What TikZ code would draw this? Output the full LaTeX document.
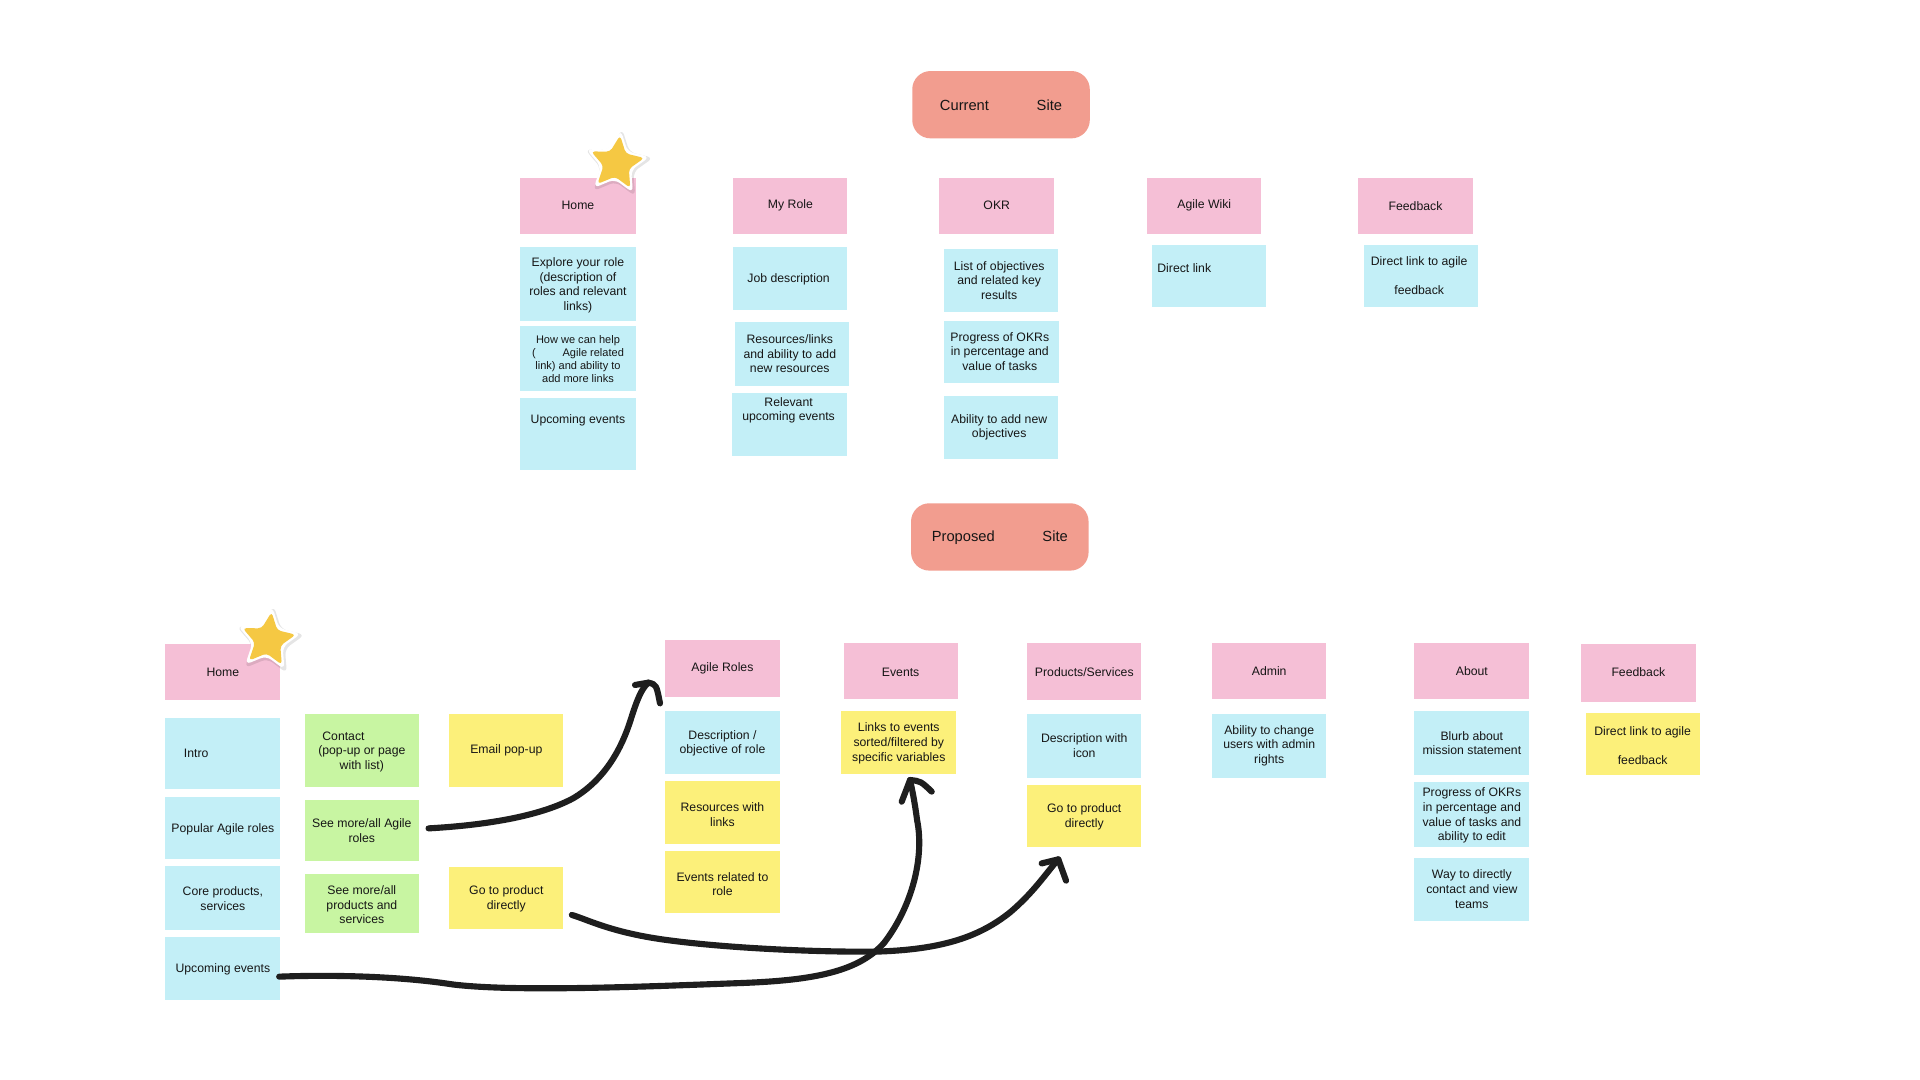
\documentclass[tikz,border=0pt]{standalone}
\usepackage{fontspec}
\setmainfont{Liberation Sans}
\usetikzlibrary{shapes.geometric}
\definecolor{pinkc}{HTML}{F5BFD6}
\definecolor{bluec}{HTML}{C3EFF7}
\definecolor{greenc}{HTML}{C8F5A2}
\definecolor{yellowc}{HTML}{FCF07A}
\definecolor{salmonc}{HTML}{F29D8F}
\definecolor{ink}{HTML}{161616}
\definecolor{pen}{HTML}{1E1E1E}
\definecolor{starc}{HTML}{F5C843}
\tikzset{
  note/.style={rectangle, inner sep=0pt, draw=none},
  txt/.style={align=center, inner sep=0pt, text=ink, font=\fontsize{10}{12}\selectfont},
  smalltxt/.style={txt, font=\fontsize{9}{10.7}\selectfont},
  titletxt/.style={txt, font=\fontsize{12}{14}\selectfont},
  titlebox/.style={rectangle, rounded corners=15pt, fill=salmonc, inner sep=0pt},
  starshadow/.style={star, star points=5, star point ratio=2.1, minimum size=59pt, inner sep=0pt, rotate=-7, fill=black, opacity=0.10, rounded corners=5pt},
  starwhite/.style={star, star points=5, star point ratio=2.1, minimum size=55pt, inner sep=0pt, rotate=-7, fill=white, rounded corners=5pt},
  staryellow/.style={star, star points=5, star point ratio=2.1, minimum size=46pt, inner sep=0pt, rotate=-7, fill=starc, rounded corners=3pt},
  hand/.style={draw=pen, line width=5pt, line cap=round, line join=round},
}
\newcommand\stk[6]{\node[note, fill=#2, minimum width={#5-#3}, minimum height={#6-#4}] (#1) at ({(#3+#5)/2},{(#4+#6)/2}) {};}
\begin{document}
\begin{tikzpicture}[x=1pt,y=-1pt]
\useasboundingbox (0,0) rectangle (1568,882);
\fill[white] (0,0) rectangle (1568,882);

% ---------- Current site ----------
\node[titlebox, minimum width=145pt, minimum height=55pt] (cur) at (817.5,85.5) {};
\node[titletxt] (curt) at (817.5,86) {Current\hspace{39pt}Site};

\stk{home1}{pinkc}{425}{145}{519}{191}
\node[txt] (home1t) at (472,168) {Home};
\stk{myrole}{pinkc}{599}{145}{692}{191}
\node[txt] (myrolet) at (645.5,168) {My Role};
\stk{okr}{pinkc}{767}{145}{861}{191}
\node[txt] (okrt) at (814,168) {OKR};
\stk{wiki}{pinkc}{937}{145}{1030}{191}
\node[txt] (wikit) at (983.5,168) {Agile Wiki};
\stk{fbone}{pinkc}{1109}{145}{1203}{191}
\node[txt] (fbonet) at (1156,168) {Feedback};

\node[starshadow] (star1s) at (504.5,134.5) {};
\node[starwhite] (star1w) at (503.6,133.4) {};
\node[staryellow] (star1) at (503.6,133.4) {};

\stk{hA}{bluec}{425}{202}{519}{262}
\node[txt] (hAt) at (472,233) {Explore your role\\(description of\\roles and relevant\\links)};
\stk{hB}{bluec}{425}{266}{519}{319}
\node[smalltxt] (hBt) at (472,293) {How we can help\\(\hspace{22pt}Agile related\\link) and ability to\\add more links};
\stk{hC}{bluec}{425}{325}{519}{384}
\node[txt] (hCt) at (472,343) {Upcoming events};

\stk{mA}{bluec}{599}{202}{692}{253}
\node[txt] (mAt) at (644,228) {Job description};
\stk{mB}{bluec}{600}{263}{693}{315}
\node[txt] (mBt) at (645,289) {Resources/links\\and ability to add\\new resources};
\stk{mC}{bluec}{598}{321}{692}{372}
\node[txt] (mCt) at (644,335) {Relevant\\upcoming events};

\stk{oA}{bluec}{771}{203}{864}{255}
\node[txt] (oAt) at (816,229) {List of objectives\\and related key\\results};
\stk{oB}{bluec}{771}{262}{865}{313}
\node[txt] (oBt) at (816.5,287) {Progress of OKRs\\in percentage and\\value of tasks};
\stk{oC}{bluec}{771}{323}{864}{375}
\node[txt] (oCt) at (816,349) {Ability to add new\\objectives};

\stk{wA}{bluec}{941}{200}{1034}{251}
\node[txt, anchor=west] (wAt) at (945,219) {Direct link};

\stk{fA}{bluec}{1114}{200}{1207}{251}
\node[txt] (fAt) at (1159,225) {Direct link to agile\\[12pt]feedback};

% ---------- Proposed site ----------
\node[titlebox, minimum width=145pt, minimum height=55pt] (prop) at (816.5,438.5) {};
\node[titletxt] (propt) at (816.5,439) {Proposed\hspace{39pt}Site};

\stk{hometwo}{pinkc}{135}{526}{229}{572}
\node[txt] (hometwot) at (182,549) {Home};
\node[starshadow] (star2s) at (220,524) {};
\node[starwhite] (star2w) at (219,522.7) {};
\node[staryellow] (star2) at (219,522.7) {};

\stk{intro}{bluec}{135}{586}{229}{644.5}
\node[txt, anchor=west] (introt) at (150,615) {Intro};
\stk{pop}{bluec}{135}{651}{229}{701.5}
\node[txt] (popt) at (182,677) {Popular Agile roles};
\stk{core}{bluec}{135}{707}{229}{759.5}
\node[txt] (coret) at (182,734) {Core products,\\services};
\stk{upc}{bluec}{135}{765}{229}{817}
\node[txt] (upct) at (182,792) {Upcoming events};

\stk{contact}{greenc}{249}{583}{342}{643}
\node[txt] (contactt) at (295.5,614) {Contact\hspace*{30pt}\\(pop-up or page\\with list)};
\stk{seeroles}{greenc}{249}{653}{342}{703.5}
\node[txt] (seerolest) at (295.5,678.5) {See more/all Agile\\roles};
\stk{seeprod}{greenc}{249}{714}{342}{762}
\node[txt] (seeprodt) at (295.5,739) {See more/all\\products and\\services};

\stk{email}{yellowc}{367}{583}{460}{643}
\node[txt] (emailt) at (413.5,613) {Email pop-up};
\stk{goprodA}{yellowc}{367}{708}{460}{759}
\node[txt] (goprodAt) at (413.5,734) {Go to product\\directly};

\stk{agroles}{pinkc}{543}{523}{637}{569}
\node[txt] (agrolest) at (590,546) {Agile Roles};
\stk{desc}{bluec}{543}{581}{637}{632}
\node[txt] (desct) at (590,607) {Description /\\objective of role};
\stk{res}{yellowc}{543}{638}{637}{689}
\node[txt] (rest) at (590,665) {Resources with\\links};
\stk{evrel}{yellowc}{543}{695}{637}{746}
\node[txt] (evrelt) at (590,722) {Events related to\\role};

\stk{events}{pinkc}{689}{525}{782}{571}
\node[txt] (eventst) at (735.5,549) {Events};
\stk{links}{yellowc}{687}{581}{781}{632}
\node[txt] (linkst) at (734,607) {Links to events\\sorted/filtered by\\specific variables};

\stk{prods}{pinkc}{839}{525}{932}{572}
\node[txt] (prodst) at (885.5,548.5) {Products/Services};
\stk{descicon}{bluec}{839}{583}{932}{635}
\node[txt] (descicont) at (885.5,609) {Description with\\icon};
\stk{goprodB}{yellowc}{839}{641}{932}{692}
\node[txt] (goprodBt) at (885.5,667) {Go to product\\directly};

\stk{admin}{pinkc}{990}{525}{1083}{571}
\node[txt] (admint) at (1036.5,548) {Admin};
\stk{ability}{bluec}{990}{583}{1083}{635}
\node[txt] (abilityt) at (1036.5,609) {Ability to change\\users with admin\\rights};

\stk{about}{pinkc}{1155}{525}{1249}{571}
\node[txt] (aboutt) at (1202,548) {About};
\stk{blurb}{bluec}{1155}{581}{1249}{633}
\node[txt] (blurbt) at (1202,607) {Blurb about\\mission statement};
\stk{progtwo}{bluec}{1155}{639}{1249}{692}
\node[txt] (progtwot) at (1202,666) {Progress of OKRs\\in percentage and\\value of tasks and\\ability to edit};
\stk{way}{bluec}{1155}{701}{1249}{752}
\node[txt] (wayt) at (1202,726) {Way to directly\\contact and view\\teams};

\stk{fbtwo}{pinkc}{1291}{526}{1385}{573}
\node[txt] (fbtwot) at (1338,549) {Feedback};
\stk{fbtwoA}{yellowc}{1295}{582}{1388}{633}
\node[txt] (fbtwoAt) at (1341.5,609) {Direct link to agile\\[12pt]feedback};

% ---------- hand-drawn arrows ----------
\coordinate (a1s) at (350,676.5);
\coordinate (a1t) at (529.5,557.5);
\draw[hand] (a1s) .. controls (395,674) and (440,667) .. (468,652)
  .. controls (495,636) and (508,610) .. (515,588)
  .. controls (520,572) and (524,562) .. (a1t);
\draw[hand] (518.6,559.4) -- (a1t) .. controls (536,559) .. (539,574.4);

\coordinate (a2s) at (228,797.6);
\coordinate (a2t) at (743.2,637);
\draw[hand] (a2s) .. controls (270,796) and (325,797) .. (370,804)
  .. controls (420,810) and (520,806) .. (600,803)
  .. controls (660,801) and (700,795) .. (722,770)
  .. controls (745,740) and (755,700) .. (749,670)
  .. controls (747,655) and (745,645) .. (a2t);
\draw[hand] (736.4,654.7) -- (a2t) .. controls (752,638) .. (760.9,646.5);

\coordinate (a3s) at (467,747.2);
\coordinate (a3t) at (864.3,701.8);
\draw[hand] (a3s) .. controls (480,751) and (500,762) .. (547,768)
  .. controls (600,775) and (680,778) .. (720,777)
  .. controls (770,775) and (800,765) .. (825,745)
  .. controls (845,728) and (855,712) .. (a3t);
\draw[hand] (850.7,705.1) -- (a3t) -- (870.6,719.2);

\end{tikzpicture}
\end{document}
